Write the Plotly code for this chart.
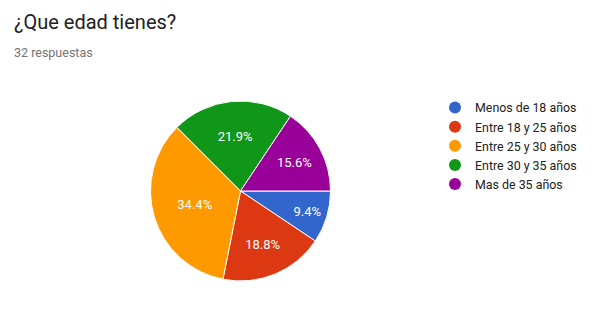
import plotly.graph_objects as go

categories = ["Menos de 18 años", "Entre 18 y 25 años", "Entre 25 y 30 años",
              "Entre 30 y 35 años", "Mas de 35 años"]
counts = [3, 6, 11, 7, 5]
colors = ["#3366cc", "#dc3912", "#ff9900", "#109618", "#990099"]
title = "¿Que edad tienes?"
subtitle = "32 respuestas"

W, H = 596, 311
cx, cy, r = 240.5, 191, 90

fig = go.Figure()
fig.add_trace(go.Pie(
    labels=categories, values=counts, sort=False, direction="clockwise",
    rotation=90, marker=dict(colors=colors, line=dict(color="white", width=1)),
    texttemplate="%{percent:.1%}", textposition="inside",
    insidetextorientation="horizontal",
    insidetextfont=dict(color="white", size=13, family="Roboto"),
    showlegend=False, hoverinfo="label+percent",
    domain=dict(x=[(cx - r) / W, (cx + r) / W], y=[(H - cy - r) / H, (H - cy + r) / H]),
))
for c, col in zip(categories, colors):
    fig.add_trace(go.Scatter(x=[None], y=[None], mode="markers", name=c,
                             marker=dict(symbol="circle", size=12, color=col)))

fig.update_layout(
    width=W, height=H, margin=dict(l=0, r=0, t=0, b=0),
    paper_bgcolor="white", plot_bgcolor="white",
    xaxis=dict(visible=False), yaxis=dict(visible=False),
    legend=dict(x=435 / W, y=1 - 93 / H, xanchor="left", yanchor="top",
                font=dict(family="Roboto", size=12.4, color="#222222"),
                itemwidth=30, tracegroupgap=0, bgcolor="rgba(0,0,0,0)"),
    annotations=[
        dict(text=title, x=12 / W, y=1 - 22 / H, xref="paper", yref="paper",
             xanchor="left", yanchor="middle", showarrow=False,
             font=dict(family="Roboto", size=20, color="#212121")),
        dict(text=subtitle, x=12 / W, y=1 - 52 / H, xref="paper", yref="paper",
             xanchor="left", yanchor="middle", showarrow=False,
             font=dict(family="Roboto", size=12.5, color="#757575")),
    ],
)
fig.write_html("out.html")
